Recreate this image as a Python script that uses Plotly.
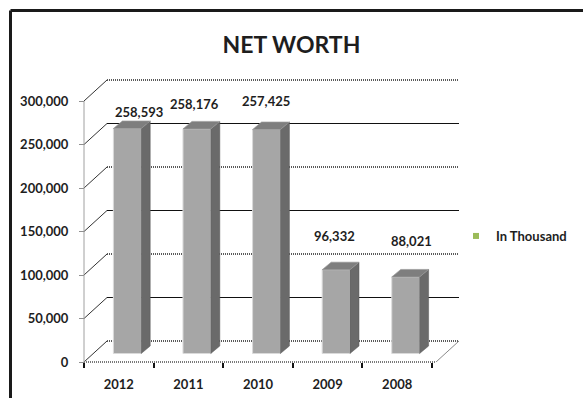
import plotly.graph_objects as go

# ---------------- data ----------------
years = ["2012", "2011", "2010", "2009", "2008"]
net_worth = [258593, 258176, 257425, 96332, 88021]
series_name = "In Thousand"
y_tick_values = [0, 50000, 100000, 150000, 200000, 250000, 300000]
y_tick_labels = ["0", "50,000", "100,000", "150,000", "200,000", "250,000", "300,000"]
chart_title = "NET WORTH"

# ---------------- geometry (pixels of the 583x398 page) ----------------
W, H = 583, 398
X0_PX, CAT_PX = 84.0, 69.6          # front-left corner of floor, width of a category
Y0_PX, PX_PER_VAL = 362.0, 261.0 / 300000.0


def dx(px):
    return px / CAT_PX


def dy(px):
    return px / PX_PER_VAL


def x_of(px):
    return (px - X0_PX) / CAT_PX


def y_of(py):
    return (Y0_PX - py) / PX_PER_VAL


BAR_W = 0.40
BAR_DX, BAR_BASE = dx(8.5), dy(8.5)      # bars sit a little behind the front edge
DEP_DX, DEP_DY = dx(9.0), dy(7.5)        # bar depth
WALL_DX, WALL_DY = dx(23.0), dy(21.0)    # back wall offset
WALL_RIGHT = x_of(459)

FRONT_C, SIDE_C, TOP_C, EDGE_C = "#A6A6A6", "#6A6A6A", "#7E7E7E", "#DADADA"
TEXT_C = "#1E1E1E"
FONT = "Lato"
FS = 13

centers = [i + 0.5 + BAR_DX for i in range(len(years))]

fig = go.Figure()

# front faces
fig.add_trace(go.Bar(
    x=centers, y=net_worth, base=BAR_BASE, width=BAR_W,
    marker=dict(color=FRONT_C, line=dict(color=EDGE_C, width=1)),
    showlegend=False, hoverinfo="skip",
))

# side and top faces
sx, sy, tx, ty = [], [], [], []
for c, v in zip(centers, net_worth):
    xl, xr = c - BAR_W / 2, c + BAR_W / 2
    b, t = BAR_BASE, BAR_BASE + v
    sx += [xr, xr + DEP_DX, xr + DEP_DX, xr, xr, None]
    sy += [b, b + DEP_DY, t + DEP_DY, t, b, None]
    tx += [xl, xl + DEP_DX, xr + DEP_DX, xr, xl, None]
    ty += [t, t + DEP_DY, t + DEP_DY, t, t, None]
fig.add_trace(go.Scatter(x=sx, y=sy, mode="lines", fill="toself", fillcolor=SIDE_C,
                         line=dict(color="#5A5A5A", width=0.5), showlegend=False, hoverinfo="skip"))
fig.add_trace(go.Scatter(x=tx, y=ty, mode="lines", fill="toself", fillcolor=TOP_C,
                         line=dict(color="#9A9A9A", width=0.7), showlegend=False, hoverinfo="skip"))

# legend entry
fig.add_trace(go.Scatter(x=[None], y=[None], mode="markers", name=series_name,
                         marker=dict(symbol="square", size=6, color="#9BBB59")))

shapes = []
# back wall grid lines + left wall diagonals
for k, v in enumerate(y_tick_values):
    major = (v % 100000 == 0)
    shapes.append(dict(type="line", xref="x", yref="y", layer="below",
                       x0=WALL_DX, x1=WALL_RIGHT, y0=v + WALL_DY, y1=v + WALL_DY,
                       line=dict(color="#5A5A5A" if major else "#111111",
                                 width=1.8 if major else 1.2,
                                 dash="1px,1px" if major else "solid")))
    shapes.append(dict(type="line", xref="x", yref="y", layer="below",
                       x0=0, x1=WALL_DX, y0=v, y1=v + WALL_DY,
                       line=dict(color="#333333", width=1)))
# front y-axis line
shapes.append(dict(type="line", xref="x", yref="y", layer="below",
                   x0=0, x1=0, y0=0, y1=max(y_tick_values),
                   line=dict(color="#A0A0A0", width=1)))
# floor front edge and right edge
floor_right = WALL_RIGHT - WALL_DX
shapes.append(dict(type="line", xref="x", yref="y", layer="below",
                   x0=0, x1=floor_right, y0=0, y1=0,
                   line=dict(color="#7A7A7A", width=1.8, dash="1px,1px")))
shapes.append(dict(type="line", xref="x", yref="y", layer="below",
                   x0=floor_right, x1=WALL_RIGHT, y0=0, y1=WALL_DY,
                   line=dict(color="#8A8A8A", width=1)))
# outer frame (top and left)
shapes.append(dict(type="line", xref="paper", yref="paper",
                   x0=10.5 / W, x1=1.02, y0=1 - 10.5 / H, y1=1 - 10.5 / H,
                   line=dict(color="#1A1A1A", width=3)))
shapes.append(dict(type="line", xref="paper", yref="paper",
                   x0=10.5 / W, x1=10.5 / W, y0=-0.02, y1=1 - 10.5 / H,
                   line=dict(color="#1A1A1A", width=3)))

# data labels (pixel nudges to follow the original placement)
label_nudges = [(12, 17), (-2, 25), (-1, 29), (-2, 34), (6, 36)]
annotations = []
for c, v, (nx, ny) in zip(centers, net_worth, label_nudges):
    annotations.append(dict(x=c, y=BAR_BASE + v, xref="x", yref="y", text=f"{v:,}",
                            showarrow=False, xshift=nx, yshift=ny, yanchor="middle",
                            font=dict(family=FONT, size=FS, color=TEXT_C, weight="bold")))

fig.update_layout(
    width=W, height=H, margin=dict(l=0, r=0, t=0, b=0),
    paper_bgcolor="white", plot_bgcolor="rgba(0,0,0,0)",
    title=dict(text=chart_title, x=0.5, xanchor="center", y=1 - 45 / H, yanchor="middle",
               font=dict(family=FONT, size=23, color=TEXT_C, weight="bold")),
    xaxis=dict(domain=[40 / W, 520 / W], range=[x_of(40), x_of(520)],
               anchor="free", position=1 - Y0_PX / H,
               tickmode="array", tickvals=[i + 0.5 for i in range(len(years))], ticktext=years,
               ticks="", showgrid=False, zeroline=False, showline=False,
               ticklabelstandoff=13,
               tickfont=dict(family=FONT, size=FS, color=TEXT_C, weight="bold"),
               minor=dict(tickmode="array", tickvals=list(range(len(years) + 1)),
                          ticks="outside", ticklen=5, tickwidth=1.5, tickcolor="#111111",
                          showgrid=False)),
    yaxis=dict(domain=[1 - 395 / H, 1 - 50 / H], range=[y_of(395), y_of(50)],
               anchor="free", position=X0_PX / W,
               tickmode="array", tickvals=y_tick_values, ticktext=y_tick_labels,
               ticks="outside", ticklen=5, tickcolor="#909090",
               showgrid=False, zeroline=False, showline=False,
               ticklabelstandoff=8,
               tickfont=dict(family=FONT, size=FS, color=TEXT_C, weight="bold")),
    legend=dict(x=456 / W, y=1 - 236 / H, xanchor="left", yanchor="middle",
                bgcolor="rgba(0,0,0,0)",
                font=dict(family=FONT, size=FS, color=TEXT_C, weight="bold")),
    shapes=shapes, annotations=annotations, showlegend=True,
)

fig.write_html("out.html")
